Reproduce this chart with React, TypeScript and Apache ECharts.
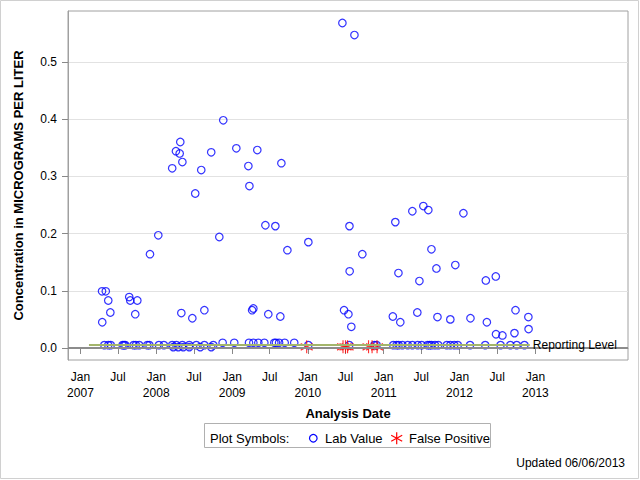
import React, { useEffect, useRef } from 'react';
import * as echarts from 'echarts';

const FONT = '"Liberation Sans", Arial, sans-serif';

// ---------- data ----------
const labDates = [
  '2007-04-15', '2007-04-16', '2007-04-26', '2007-05-03', '2007-05-15', '2007-05-15', '2007-05-25', '2007-05-27',
  '2007-07-23', '2007-07-30', '2007-08-05', '2007-08-24', '2007-08-29', '2007-09-14', '2007-09-22', '2007-09-25',
  '2007-10-02', '2007-10-11', '2007-11-19', '2007-11-29', '2007-12-02',
  '2008-01-11', '2008-01-14', '2008-02-07', '2008-03-18', '2008-03-18', '2008-03-23', '2008-04-05', '2008-04-07',
  '2008-04-16', '2008-04-23', '2008-04-26', '2008-05-01', '2008-05-06', '2008-05-06', '2008-05-10', '2008-06-08',
  '2008-06-08', '2008-06-23', '2008-07-07', '2008-07-12', '2008-07-31', '2008-08-05', '2008-08-20', '2008-08-20',
  '2008-09-22', '2008-09-22', '2008-10-02', '2008-10-31', '2008-11-16', '2008-11-19',
  '2009-01-11', '2009-01-21', '2009-03-20', '2009-03-23', '2009-03-25', '2009-04-07', '2009-04-13', '2009-04-13',
  '2009-05-02', '2009-05-07', '2009-06-05', '2009-06-10', '2009-06-24', '2009-07-23', '2009-07-28', '2009-07-31',
  '2009-08-15', '2009-08-21', '2009-08-26', '2009-09-11', '2009-09-24', '2009-10-27',
  '2010-01-03', '2010-01-03', '2010-06-16', '2010-06-24', '2010-07-15', '2010-07-19', '2010-07-20', '2010-07-21',
  '2010-07-29', '2010-08-13', '2010-09-20', '2010-11-17', '2010-11-28',
  '2011-02-14', '2011-02-16', '2011-02-26', '2011-03-04', '2011-03-13', '2011-03-14', '2011-03-22', '2011-04-01',
  '2011-04-27', '2011-05-19', '2011-05-19', '2011-06-12', '2011-06-14', '2011-06-22', '2011-07-03', '2011-07-11',
  '2011-07-31', '2011-08-04', '2011-08-10', '2011-08-19', '2011-08-19', '2011-09-05', '2011-09-12', '2011-09-17',
  '2011-09-21', '2011-11-01', '2011-11-18', '2011-11-18', '2011-12-07', '2011-12-12', '2011-12-24',
  '2012-01-20', '2012-02-21', '2012-02-23', '2012-05-04', '2012-05-07', '2012-05-12', '2012-06-24', '2012-06-25',
  '2012-07-17', '2012-07-26', '2012-09-02', '2012-09-22', '2012-09-27', '2012-10-03', '2012-11-09', '2012-11-28',
  '2012-11-29',
];
const labValues = [
  0.099, 0.045, 0.005, 0.099, 0.083, 0.005, 0.062, 0.005,
  0.005, 0.005, 0.005, 0.089, 0.083, 0.005, 0.059, 0.005,
  0.083, 0.005, 0.005, 0.005, 0.164,
  0.197, 0.005, 0.005, 0.314, 0.005, 0.0015, 0.344, 0.005,
  0.0015, 0.340, 0.360, 0.061, 0.325, 0.005, 0.0015, 0.005,
  0.0015, 0.052, 0.270, 0.005, 0.0015, 0.311, 0.066, 0.005,
  0.342, 0.0015, 0.005, 0.194, 0.009, 0.398,
  0.009, 0.349, 0.318, 0.009, 0.283, 0.066, 0.069, 0.009,
  0.346, 0.009, 0.009, 0.2145, 0.059, 0.009, 0.213, 0.009,
  0.009, 0.055, 0.323, 0.009, 0.171, 0.009,
  0.185, 0.005, 0.568, 0.066, 0.059, 0.005, 0.213, 0.134,
  0.037, 0.547, 0.164, 0.005, 0.005,
  0.055, 0.005, 0.220, 0.005, 0.131, 0.005, 0.045, 0.005,
  0.005, 0.239, 0.005, 0.062, 0.005, 0.117, 0.005, 0.248,
  0.005, 0.241, 0.005, 0.1725, 0.005, 0.005, 0.139, 0.054,
  0.005, 0.005, 0.050, 0.005, 0.005, 0.145, 0.005,
  0.2355, 0.005, 0.052, 0.005, 0.118, 0.045, 0.125, 0.024,
  0.005, 0.022, 0.005, 0.026, 0.066, 0.005, 0.005, 0.054,
  0.033,
];
const falseDates = ['2009-12-26', '2010-06-19', '2010-07-01', '2010-07-11', '2010-10-20', '2010-11-06', '2010-11-30'];
const falseValues = [0.002, 0.002, 0.002, 0.002, 0.002, 0.002, 0.002];

const reportingLevel = 0.005;
const reportingStart = '2007-02-11';
const reportingEnd = '2012-12-05';

const xTickDates = [
  '2007-01-01', '2007-07-01', '2008-01-01', '2008-07-01', '2009-01-01', '2009-07-01', '2010-01-01',
  '2010-07-01', '2011-01-01', '2011-07-01', '2012-01-01', '2012-07-01', '2013-01-01',
];
const xTickLabels = [
  'Jan\n2007', 'Jul', 'Jan\n2008', 'Jul', 'Jan\n2009', 'Jul', 'Jan\n2010',
  'Jul', 'Jan\n2011', 'Jul', 'Jan\n2012', 'Jul', 'Jan\n2013',
];
const xMin = '2006-11-02';
const xMax = '2014-03-23';
const yTicks = [0, 0.1, 0.2, 0.3, 0.4, 0.5];
const yMin = -0.021;
const yMax = 0.589;

const t = (s: string) => new Date(s + 'T00:00:00').getTime();
const ASTERISK = 'path://M6,0L6,14M0,3.5L12,10.5M0,10.5L12,3.5';

export default function App() {
  const ref = useRef<HTMLDivElement>(null);
  useEffect(() => {
    const chart = echarts.init(ref.current!, null, { renderer: 'svg' });
    const tickTs = xTickDates.map(t);
    const labData = labDates.map((d, i) => [t(d), labValues[i]]);
    const falseData = falseDates.map((d, i) => [t(d), falseValues[i]]);
    const lx = 396.7;
    const ly = 438.3;
    chart.setOption({
      animation: false,
      backgroundColor: '#ffffff',
      textStyle: { fontFamily: FONT },
      grid: { left: 68, top: 11, width: 560, height: 349, show: true, borderColor: '#a0a0a0', borderWidth: 1, backgroundColor: 'transparent' },
      xAxis: {
        type: 'value',
        min: t(xMin),
        max: t(xMax),
        scale: true,
        name: 'Analysis Date',
        nameLocation: 'middle',
        nameGap: 47,
        nameTextStyle: { fontFamily: FONT, fontSize: 13, fontWeight: 'bold', color: '#000' },
        axisLine: { show: true, lineStyle: { color: '#a0a0a0', width: 1 } },
        axisTick: { show: true, length: 6, lineStyle: { color: '#888' }, customValues: tickTs },
        axisLabel: {
          customValues: tickTs,
          margin: 9,
          fontFamily: FONT,
          fontSize: 12,
          lineHeight: 16,
          color: '#000',
          formatter: (v: number) => {
            const i = tickTs.findIndex((x) => Math.abs(x - v) < 3600000 * 36);
            return i >= 0 ? xTickLabels[i] : '';
          },
        },
        splitLine: { show: false },
      },
      yAxis: {
        type: 'value',
        min: yMin,
        max: yMax,
        name: 'Concentration in MICROGRAMS PER LITER',
        nameLocation: 'middle',
        nameGap: 43,
        nameTextStyle: { fontFamily: FONT, fontSize: 13, fontWeight: 'bold', color: '#000' },
        axisLine: { show: true, lineStyle: { color: '#a0a0a0', width: 1 } },
        axisTick: { show: true, length: 6, lineStyle: { color: '#888' }, customValues: yTicks },
        axisLabel: {
          customValues: yTicks,
          margin: 11,
          fontFamily: FONT,
          fontSize: 12,
          color: '#000',
          formatter: (v: number) => v.toFixed(1),
        },
        splitLine: { show: true, lineStyle: { color: '#e2e2e2', width: 1 } },
      },
      series: [
        {
          name: 'refs',
          type: 'scatter',
          data: [],
          z: 1,
          silent: true,
          markLine: {
            silent: true,
            symbol: ['none', 'none'],
            animation: false,
            data: [
              { yAxis: 0, lineStyle: { color: '#8c8c8c', width: 2, type: 'solid' }, label: { show: false } },
              [
                { coord: [t(reportingStart), reportingLevel], lineStyle: { color: '#a3b56b', width: 2, type: 'solid' } },
                {
                  coord: [t(reportingEnd), reportingLevel],
                  label: { show: true, position: 'end', formatter: 'Reporting Level', color: '#000', fontFamily: FONT, fontSize: 12, distance: 3 },
                },
              ],
            ],
          },
        },
        {
          name: 'Lab Value',
          type: 'scatter',
          data: labData,
          symbol: 'circle',
          symbolSize: 7.5,
          z: 3,
          itemStyle: { color: 'rgba(0,0,0,0)', borderColor: '#0000ff', borderWidth: 1.2 },
        },
        {
          name: 'False Positive',
          type: 'scatter',
          data: falseData,
          symbol: ASTERISK,
          symbolSize: [12, 13],
          z: 4,
          itemStyle: { color: 'rgba(0,0,0,0)', borderColor: '#ff0000', borderWidth: 1.2 },
        },
      ],
      graphic: [
        { type: 'rect', shape: { x: 0.5, y: 0.5, width: 638, height: 478 }, style: { fill: 'none', stroke: '#d0d0d0', lineWidth: 1 }, silent: true, z: -10 },
        { type: 'rect', shape: { x: 204.5, y: 423.5, width: 286, height: 24 }, style: { fill: '#fff', stroke: '#b0b0b0', lineWidth: 1 } },
        { type: 'text', x: 210, y: ly, style: { text: 'Plot Symbols:', fontFamily: FONT, fontSize: 13, fill: '#000', verticalAlign: 'middle' } },
        { type: 'circle', shape: { cx: 313.3, cy: ly, r: 3.8 }, style: { fill: 'none', stroke: '#0000ff', lineWidth: 1.2 } },
        { type: 'text', x: 325, y: ly, style: { text: 'Lab Value', fontFamily: FONT, fontSize: 13, fill: '#000', verticalAlign: 'middle' } },
        { type: 'line', shape: { x1: lx, y1: ly - 6, x2: lx, y2: ly + 6 }, style: { stroke: '#ff0000', lineWidth: 1.2 } },
        { type: 'line', shape: { x1: lx - 5.5, y1: ly - 3, x2: lx + 5.5, y2: ly + 3 }, style: { stroke: '#ff0000', lineWidth: 1.2 } },
        { type: 'line', shape: { x1: lx - 5.5, y1: ly + 3, x2: lx + 5.5, y2: ly - 3 }, style: { stroke: '#ff0000', lineWidth: 1.2 } },
        { type: 'text', x: 409, y: ly, style: { text: 'False Positive', fontFamily: FONT, fontSize: 13, fill: '#000', verticalAlign: 'middle' } },
        { type: 'text', x: 625, y: 463, style: { text: 'Updated 06/06/2013', fontFamily: FONT, fontSize: 12, fill: '#000', align: 'right', verticalAlign: 'middle' } },
      ],
    });
    return () => chart.dispose();
  }, []);
  return (
    <div
      ref={ref}
      style={{ position: 'absolute', left: 0, top: 0, width: 640, height: 480, background: '#fff' }}
    />
  );
}
